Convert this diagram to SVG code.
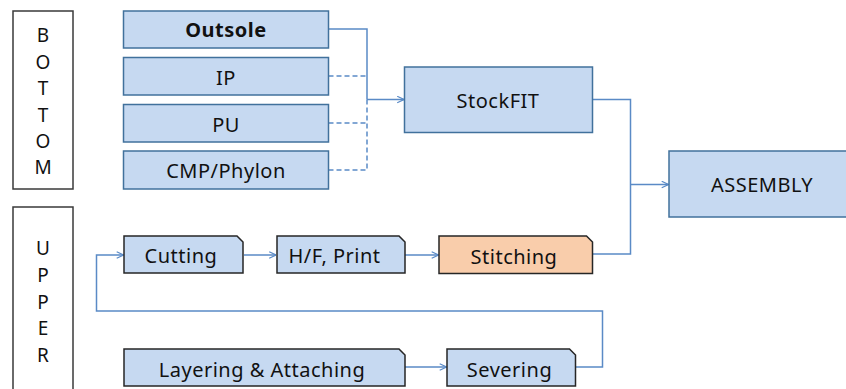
<svg xmlns="http://www.w3.org/2000/svg" width="846" height="389" viewBox="0 0 846 389">
  <defs>
    <style>
      .frame { fill: #ffffff; stroke: #3a3a3a; stroke-width: 1.5; }
      .blk { fill: #c6d9f1; stroke: #41719c; stroke-width: 1.5; }
      .tab { fill: #c6d9f1; stroke: #262626; stroke-width: 1.5; }
      .tab.hot { fill: #f9cdab; }
      .lbl { font-family: "Noto Sans", "Open Sans", "Liberation Sans", sans-serif; font-size: 20px; letter-spacing: 0.5px; fill: #111111; text-anchor: middle; }
      .side { font-family: "Noto Sans", "Open Sans", "Liberation Sans", sans-serif; font-size: 19px; fill: #111111; text-anchor: middle; }
      .wire { fill: none; stroke: #5a8ac6; stroke-width: 1.5; }
      .dash { stroke-dasharray: 5 3; }
    </style>
    <marker id="open" viewBox="0 0 10 10" refX="9.5" refY="5" markerWidth="8" markerHeight="8" markerUnits="userSpaceOnUse" orient="auto">
      <path d="M1,1 L9.5,5 L1,9" fill="none" stroke="#5a8ac6" stroke-width="1.5"/>
    </marker>
  </defs>

  <!-- side captions -->
  <g id="bottom-frame">
    <rect class="frame" x="13" y="11" width="60" height="178"/>
    <text class="side" x="43" y="42">B</text>
    <text class="side" x="43" y="68.5">O</text>
    <text class="side" x="43" y="95">T</text>
    <text class="side" x="43" y="121.5">T</text>
    <text class="side" x="43" y="148">O</text>
    <text class="side" x="43" y="174">M</text>
  </g>
  <g id="upper-frame">
    <rect class="frame" x="13" y="207" width="60" height="190"/>
    <text class="side" x="43" y="255">U</text>
    <text class="side" x="43" y="281.8">P</text>
    <text class="side" x="43" y="308.6">P</text>
    <text class="side" x="43" y="335.4">E</text>
    <text class="side" x="43" y="362.2">R</text>
  </g>

  <!-- connectors -->
  <g id="connectors">
    <path class="wire" d="M328.5,29 H367 V99.5"/>
    <path class="wire dash" d="M328.5,76 H367 M328.5,123 H367 M328.5,170 H367 M367,99.5 V170"/>
    <path class="wire" d="M367,99.5 H404" marker-end="url(#open)"/>
    <path class="wire" d="M592.5,99.5 H630.5 V254 H592.5"/>
    <path class="wire" d="M630.5,184.5 H668.5" marker-end="url(#open)"/>
    <path class="wire" d="M244,255 H276" marker-end="url(#open)"/>
    <path class="wire" d="M405,255 H438.5" marker-end="url(#open)"/>
    <path class="wire" d="M405,367 H446.5" marker-end="url(#open)"/>
    <path class="wire" d="M576,367 H602.5 V311 H96.5 V255 H123.5" marker-end="url(#open)"/>
  </g>

  <!-- bottom parts -->
  <g id="outsole">
    <rect class="blk" x="123.5" y="11" width="205" height="37"/>
    <text class="lbl" x="226" y="37" font-weight="bold">Outsole</text>
  </g>
  <g id="ip">
    <rect class="blk" x="123.5" y="57.5" width="205" height="37.5"/>
    <text class="lbl" x="226" y="85">IP</text>
  </g>
  <g id="pu">
    <rect class="blk" x="123.5" y="104.5" width="205" height="37.5"/>
    <text class="lbl" x="226" y="131.5">PU</text>
  </g>
  <g id="cmp-phylon">
    <rect class="blk" x="123.5" y="151" width="205" height="38"/>
    <text class="lbl" x="226" y="178">CMP/Phylon</text>
  </g>
  <g id="stockfit">
    <rect class="blk" x="404.5" y="67" width="188" height="65.5"/>
    <text class="lbl" x="498" y="108">StockFIT</text>
  </g>
  <g id="assembly">
    <rect class="blk" x="669" y="151" width="185" height="66"/>
    <text class="lbl" x="762" y="192">ASSEMBLY</text>
  </g>

  <!-- upper parts -->
  <g id="cutting">
    <path class="tab" d="M124,236 H237 L243,242 V273 H124 Z"/>
    <text class="lbl" x="181" y="262.5">Cutting</text>
  </g>
  <g id="hf-print">
    <path class="tab" d="M277,236 H399 L405,242 V273 H277 Z"/>
    <text class="lbl" x="334.5" y="262.5">H/F, Print</text>
  </g>
  <g id="stitching">
    <path class="tab hot" d="M439,236 H586.5 L592.5,242 V273.5 H439 Z"/>
    <text class="lbl" x="514" y="263.5">Stitching</text>
  </g>
  <g id="layering">
    <path class="tab" d="M124,349 H399 L405,355 V386 H124 Z"/>
    <text class="lbl" x="262" y="377">Layering &amp; Attaching</text>
  </g>
  <g id="severing">
    <path class="tab" d="M447,349 H569.5 L575.5,355 V386 H447 Z"/>
    <text class="lbl" x="509.5" y="377">Severing</text>
  </g>
</svg>
